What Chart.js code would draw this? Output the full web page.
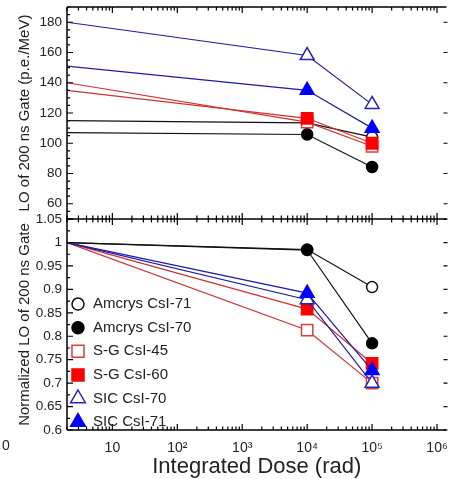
<!DOCTYPE html>
<html>
<head>
<meta charset="utf-8">
<script src="https://cdn.jsdelivr.net/npm/chart.js@4"></script>
<style>
  body { margin: 0; background: #fff; width: 456px; height: 479px; overflow: hidden; position: relative;
         font-family: "Liberation Sans", Arial, sans-serif; }
  #topBox { position: absolute; left: 0; top: -6px; width: 456px; height: 238px; }
  #botBox { position: absolute; left: 0; top: 206px; width: 456px; height: 273px; }
  .stray { position: absolute; left: 2px; top: 437px; font-size: 14px; color: #222; }
</style>
</head>
<body>
<div id="topBox"><canvas id="lo"></canvas></div>
<div id="botBox"><canvas id="norm"></canvas></div>
<span class="stray">0</span>
<script>
// integrated dose (rad)
const doses = [2, 1e4, 1e5];
const names = ['Amcrys CsI-71', 'Amcrys CsI-70', 'S-G CsI-45', 'S-G CsI-60', 'SIC CsI-70', 'SIC CsI-71'];

// light output of 200 ns gate (p.e./MeV)
const loAmcrys71 = [115, 113.5, 104];
const loAmcrys70 = [107, 105.8, 84.3];
const loSG45 = [140, 114, 98];
const loSG60 = [135, 116.5, 100];
const loSIC70 = [180, 158, 125.7];
const loSIC71 = [151, 135, 110];

// normalized light output
const nAmcrys71 = [1, 0.985, 0.905];
const nAmcrys70 = [1, 0.984, 0.785];
const nSG45 = [1, 0.813, 0.70];
const nSG60 = [1, 0.858, 0.742];
const nSIC70 = [1, 0.878, 0.70];
const nSIC71 = [1, 0.892, 0.727];

// tick labels
const xTicks = [10, 100, 1000, 1e4, 1e5, 1e6];
const xTickLabels = ['10', '10²', '10³', '10⁴', '10⁵', '10⁶'];
const loTicks = [60, 80, 100, 120, 140, 160, 180];
const normTicks = [0.6, 0.65, 0.7, 0.75, 0.8, 0.85, 0.9, 0.95, 1, 1.05];

const FONT = '"Liberation Sans", Arial, sans-serif';

// marker look per series
const looks = [
  {line: '#111', edge: '#111', fill: '#fff', shape: 'circle', r: 5.5},
  {line: '#111', edge: '#000', fill: '#000', shape: 'circle', r: 5.5},
  {line: '#d23030', edge: '#e03a3a', fill: '#fff', shape: 'rect', r: 8},
  {line: '#d23030', edge: '#f00', fill: '#f00', shape: 'rect', r: 8},
  {line: '#1c1ca8', edge: '#2222c8', fill: '#fff', shape: 'triangle', r: 8},
  {line: '#1c1ca8', edge: '#0000ff', fill: '#0000ff', shape: 'triangle', r: 8}
];

function makeSets(series) {
  return series.map((vals, i) => {
    const lk = looks[i];
    return {
      label: names[i],
      data: vals.map((v, j) => ({x: doses[j], y: v})),
      order: series.length - i,   // later series drawn on top
      borderColor: lk.line,
      borderWidth: 1.2,
      pointStyle: lk.shape,
      pointRadius: vals.map((v, j) => j === 0 ? 0 : lk.r),
      pointBackgroundColor: lk.fill,
      pointBorderColor: lk.edge,
      pointBorderWidth: 1.5,
      fill: false,
      tension: 0
    };
  });
}

//frame lines and inward tick marks
const frameTicks = {
  id: 'frameTicks',
  afterDatasetsDraw(chart, args, opts) {
    const {ctx, chartArea: a, scales: {x, y}} = chart;
    ctx.save();
    ctx.strokeStyle = '#000';
    ctx.lineWidth = 1.5;
    ctx.beginPath();
    ctx.moveTo(a.left, a.top); ctx.lineTo(a.left, a.bottom);
    if (opts.top) { ctx.moveTo(a.left, a.top); ctx.lineTo(a.right, a.top); }
    ctx.moveTo(a.left, a.bottom); ctx.lineTo(a.right, a.bottom);
    ctx.stroke();
    ctx.lineWidth = 1.2;
    ctx.beginPath();
    // x log ticks
    for (let d = 1; d <= 1e6; d *= 10) {
      for (let m = 1; m < 10; m++) {
        const v = d * m;
        if (v < x.min || v > x.max) continue;
        const px = x.getPixelForValue(v);
        const len = m === 1 ? 6 : 3.5;
        if (opts.top) { ctx.moveTo(px, a.top); ctx.lineTo(px, a.top + len); }
        if (opts.topCross) { ctx.moveTo(px, a.top - len); ctx.lineTo(px, a.top + len); }
        if (opts.bottom) { ctx.moveTo(px, a.bottom); ctx.lineTo(px, a.bottom - len); }
      }
    }
    // y ticks
    const step = opts.minorStep;
    for (let v = y.min; v <= y.max + 1e-9; v += step) {
      const py = y.getPixelForValue(v);
      const major = opts.majors.some(t => Math.abs(t - v) < 1e-6);
      const len = major ? 6 : 3;
      ctx.moveTo(a.left, py); ctx.lineTo(a.left + len, py);
      if (major) { ctx.moveTo(a.right - 3, py); ctx.lineTo(a.right + 1, py); }
    }
    ctx.stroke();
    ctx.restore();
  }
};

function drawMarker(ctx, lk, cx, cy, r) {
  ctx.beginPath();
  if (lk.shape === 'circle') {
    ctx.arc(cx, cy, r, 0, Math.PI * 2);
  } else if (lk.shape === 'rect') {
    const s = r * Math.SQRT1_2;
    ctx.rect(cx - s, cy - s, 2 * s, 2 * s);
  } else {
    ctx.moveTo(cx, cy - r);
    ctx.lineTo(cx + r * 0.866, cy + r * 0.5);
    ctx.lineTo(cx - r * 0.866, cy + r * 0.5);
    ctx.closePath();
  }
  ctx.fillStyle = lk.fill;
  ctx.fill();
  ctx.lineWidth = 1.5;
  ctx.strokeStyle = lk.edge;
  ctx.stroke();
}

// legend drawn inside the lower panel
const innerLegend = {
  id: 'innerLegend',
  afterDraw(chart) {
    const {ctx, chartArea: a} = chart;
    ctx.save();
    ctx.font = '15px ' + FONT;
    ctx.textBaseline = 'middle';
    ctx.textAlign = 'left';
    names.forEach((n, i) => {
      const cy = a.top + 85 + i * 23.6;
      const lk = looks[i];
      drawMarker(ctx, lk, a.left + 11, cy, lk.shape === 'circle' ? 6 : 8.5);
      ctx.fillStyle = '#222';
      ctx.fillText(n, a.left + 26, cy);
    });
    ctx.restore();
  }
};

const xScale = (show) => ({
  type: 'logarithmic',
  display: show,
  min: 2,
  max: 1.4e6,
  grid: {display: false},
  border: {display: false},
  afterBuildTicks: s => { s.ticks = xTicks.map(v => ({value: v})); },
  afterFit: s => { if (show) s.height = 49; },
  ticks: {
    color: '#222', padding: 2, maxRotation: 0, autoSkip: false,
    font: {family: FONT, size: 14},
    callback: (v) => xTickLabels[xTicks.indexOf(v)] || ''
  },
  title: {
    display: true, text: 'Integrated Dose (rad)', color: '#222',
    font: {family: FONT, size: 22, lineHeight: 1}, padding: {top: 0, bottom: 1}
  }
});

const yScale = (min, max, ticks, title, fmt) => ({
  min: min, max: max,
  grid: {display: false, drawTicks: false},
  border: {display: false},
  afterBuildTicks: s => { s.ticks = ticks.map(v => ({value: v})); },
  afterFit: s => { s.width = 67; },
  ticks: {color: '#222', padding: 5, font: {family: FONT, size: 13.5}, callback: fmt},
  title: {display: true, text: title, color: '#222', font: {family: FONT, size: 15}, padding: {top: 16, bottom: 0}}
});

const common = {
  responsive: true,
  maintainAspectRatio: false,
  animation: false,
  events: [],
  plugins: {legend: {display: false}, tooltip: {enabled: false}}
};

let loChart = new Chart(document.getElementById('lo'), {
  type: 'line',
  data: {datasets: makeSets([loAmcrys71, loAmcrys70, loSG45, loSG60, loSIC70, loSIC71])},
  options: Object.assign({}, common, {
    layout: {padding: {top: 2, right: 3, bottom: 4, left: 0}},
    scales: {
      x: xScale(false),
      y: yScale(50, 190, loTicks, 'LO of 200 ns Gate (p.e./MeV)', v => String(v))
    },
    plugins: Object.assign({}, common.plugins, {
      frameTicks: {top: true, topCross: false, bottom: false, minorStep: 5, majors: loTicks}
    })
  }),
  plugins: [frameTicks]
});

let normChart = new Chart(document.getElementById('norm'), {
  type: 'line',
  data: {datasets: makeSets([nAmcrys71, nAmcrys70, nSG45, nSG60, nSIC70, nSIC71])},
  options: Object.assign({}, common, {
    layout: {padding: {top: 8, right: 3, bottom: 0, left: 0}},
    scales: {
      x: xScale(true),
      y: yScale(0.6, 1.05, normTicks, 'Normalized LO of 200 ns Gate', v => String(Math.round(v * 100) / 100))
    },
    plugins: Object.assign({}, common.plugins, {
      frameTicks: {top: false, topCross: true, bottom: true, minorStep: 0.025, majors: normTicks}
    })
  }),
  plugins: [frameTicks, innerLegend]
});
</script>
</body>
</html>
